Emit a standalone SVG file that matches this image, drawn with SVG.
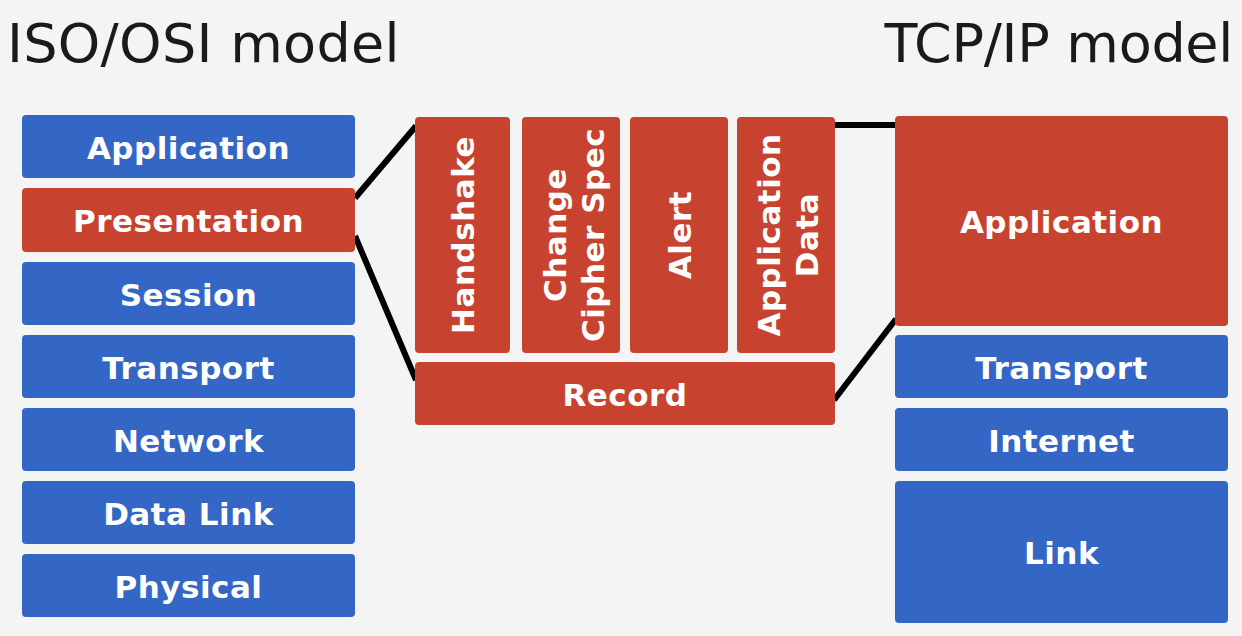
<svg xmlns="http://www.w3.org/2000/svg" width="1242" height="636" viewBox="0 0 1242 636">
<style>
.bg{fill:#f4f4f4}
.blue{fill:#3467c5}
.red{fill:#c8432f}
.lbl{font-family:"DejaVu Sans",Verdana,sans-serif;font-weight:bold;font-size:31px;letter-spacing:0.5px;fill:#ffffff;text-anchor:middle}
.title{font-family:"DejaVu Sans",Verdana,sans-serif;font-size:54px;letter-spacing:0.3px;fill:#1a1a1a}
.conn{stroke:#000;stroke-width:6;fill:none;stroke-linecap:butt}
</style>
<rect class="bg" x="0" y="0" width="1242" height="636"/>
<text class="title" x="7" y="62">ISO/OSI model</text>
<text class="title" x="1233" y="62" text-anchor="end" style="letter-spacing:-0.3px">TCP/IP model</text>
<g id="connectors">
<line class="conn" x1="355" y1="198" x2="416" y2="126"/>
<line class="conn" x1="355" y1="236" x2="416" y2="380"/>
<line class="conn" x1="834" y1="125" x2="896" y2="125"/>
<line class="conn" x1="834" y1="400" x2="896" y2="319"/>
</g>
<g id="osi-application"><rect class="blue" x="22" y="115" width="333" height="63" rx="4"/><text class="lbl" x="188.5" y="159">Application</text></g>
<g id="osi-presentation"><rect class="red" x="22" y="188" width="333" height="64" rx="4"/><text class="lbl" x="188.5" y="232">Presentation</text></g>
<g id="osi-session"><rect class="blue" x="22" y="262" width="333" height="63" rx="4"/><text class="lbl" x="188.5" y="306">Session</text></g>
<g id="osi-transport"><rect class="blue" x="22" y="335" width="333" height="63" rx="4"/><text class="lbl" x="188.5" y="379">Transport</text></g>
<g id="osi-network"><rect class="blue" x="22" y="408" width="333" height="63" rx="4"/><text class="lbl" x="188.5" y="452">Network</text></g>
<g id="osi-datalink"><rect class="blue" x="22" y="481" width="333" height="63" rx="4"/><text class="lbl" x="188.5" y="525">Data Link</text></g>
<g id="osi-physical"><rect class="blue" x="22" y="554" width="333" height="63" rx="4"/><text class="lbl" x="188.5" y="598">Physical</text></g>
<g id="tls-handshake"><rect class="red" x="415" y="117" width="95" height="236" rx="4"/><text class="lbl" transform="translate(474,235) rotate(-90)">Handshake</text></g>
<g id="tls-ccs"><rect class="red" x="522" y="117" width="98" height="236" rx="4"/><text class="lbl" transform="translate(566,235) rotate(-90)">Change</text><text class="lbl" transform="translate(604,235) rotate(-90)">Cipher Spec</text></g>
<g id="tls-alert"><rect class="red" x="630" y="117" width="98" height="236" rx="4"/><text class="lbl" transform="translate(691,235) rotate(-90)">Alert</text></g>
<g id="tls-appdata"><rect class="red" x="737" y="117" width="98" height="236" rx="4"/><text class="lbl" transform="translate(780,235) rotate(-90)">Application</text><text class="lbl" transform="translate(818,235) rotate(-90)">Data</text></g>
<g id="tls-record"><rect class="red" x="415" y="362" width="420" height="63" rx="4"/><text class="lbl" x="625" y="406">Record</text></g>
<g id="tcp-application"><rect class="red" x="895" y="116" width="333" height="210" rx="4"/><text class="lbl" x="1061.5" y="233">Application</text></g>
<g id="tcp-transport"><rect class="blue" x="895" y="335" width="333" height="63" rx="4"/><text class="lbl" x="1061.5" y="379">Transport</text></g>
<g id="tcp-internet"><rect class="blue" x="895" y="408" width="333" height="63" rx="4"/><text class="lbl" x="1061.5" y="452">Internet</text></g>
<g id="tcp-link"><rect class="blue" x="895" y="481" width="333" height="142" rx="4"/><text class="lbl" x="1061.5" y="564">Link</text></g>
</svg>
